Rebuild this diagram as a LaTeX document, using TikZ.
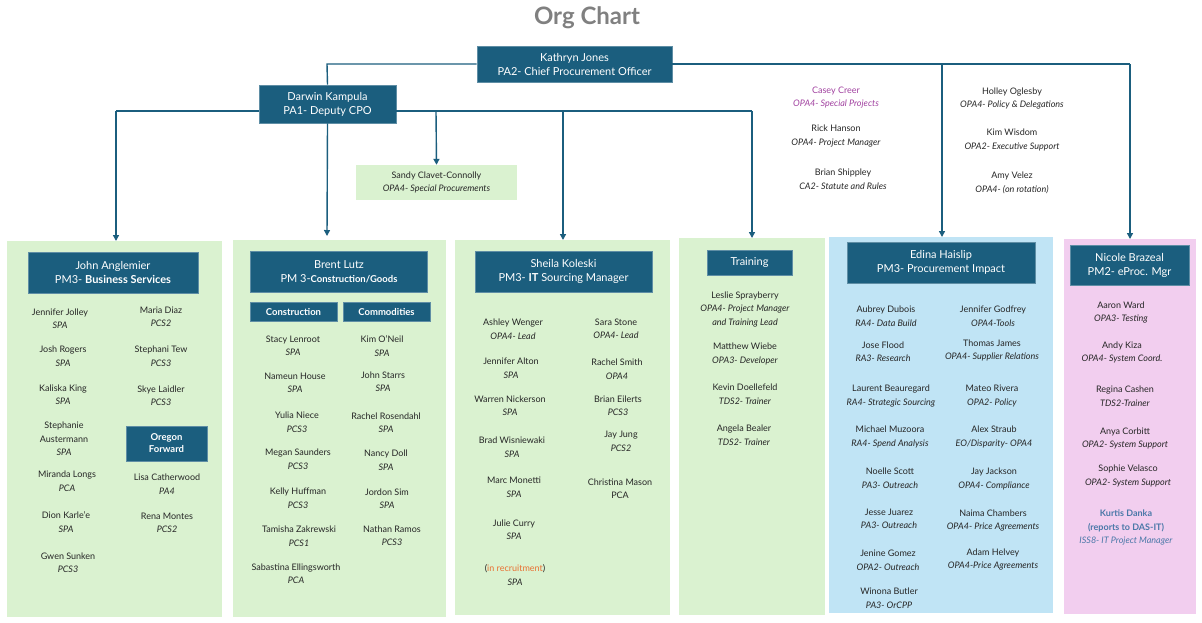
\documentclass[tikz,border=0pt]{standalone}
\usepackage{fontspec}
\setmainfont{Lato}
\usetikzlibrary{arrows.meta}
\definecolor{hdr}{HTML}{1B5E7E}
\definecolor{pg}{HTML}{DAF2D0}
\definecolor{pb}{HTML}{C0E4F5}
\definecolor{pp}{HTML}{F2CEEF}
\definecolor{txt}{HTML}{262626}
\definecolor{purp}{HTML}{A0409F}
\definecolor{orng}{HTML}{E97132}
\definecolor{kblue}{HTML}{4A78A8}
\begin{document}
\begin{tikzpicture}[x=1pt,y=-1pt,
  ent/.style={align=center,text=txt,font=\fontsize{9}{13.5}\selectfont,inner sep=0pt},
  hd/.style={fill=hdr,draw=hdr!70!white,line width=0.8pt,text=white,align=center,font=\fontsize{11}{14}\selectfont,inner sep=0pt},
  sub/.style={hd,font=\fontsize{9.5}{12}\selectfont\bfseries},
  panel/.style={inner sep=0pt},
  con/.style={draw=hdr,line width=1.4pt},
  arr/.style={con,-{Triangle[length=6pt,width=6pt]}}]
\useasboundingbox (0,0) rectangle (1202,622);
% title
\node[font=\fontsize{24}{28}\selectfont\bfseries,text=gray] (title) at (587,18) {Org Chart};
% panels
\fill[pg] (7,241) rectangle (222,617) coordinate (p1);
\fill[pg] (233,240) rectangle (446,617);
\fill[pg] (455,240) rectangle (670,615);
\fill[pg] (679,238) rectangle (825,615);
\fill[pb] (829,237) rectangle (1053,613);
\fill[pp] (1064,239) rectangle (1196,614);
% top boxes
\node[hd,minimum width=195,minimum height=36] (kj) at (574.5,64) {Kathryn Jones\\PA2- Chief Procurement Officer};
\node[hd,minimum width=137,minimum height=38] (dk) at (327.5,104) {Darwin Kampula\\PA1- Deputy CPO};
\node[fill=pg,minimum width=161,minimum height=35,ent] (sc) at (436.5,182.5) {Sandy Clavet-Connolly\\\textit{OPA4- Special Procurements}};
% headers
\node[hd,minimum width=170,minimum height=41] (h1) at (113,272.5) {John Anglemier\\PM3- \textbf{Business Services}};
\node[hd,minimum width=177,minimum height=41] (h2) at (339,272) {Brent Lutz\\PM 3-{\fontsize{9.5}{14}\selectfont\bfseries Construction/Goods}};
\node[sub,minimum width=87,minimum height=19] (hc) at (293.5,311.5) {Construction};
\node[sub,minimum width=87,minimum height=19] (hm) at (386.5,311.5) {Commodities};
\node[hd,minimum width=177,minimum height=41] (h3) at (563.5,271.5) {Sheila Koleski\\PM3- \textbf{IT} Sourcing Manager};
\node[hd,minimum width=85,minimum height=25] (h4) at (749.5,262.5) {Training};
\node[hd,minimum width=188,minimum height=41] (h5) at (941,262.5) {Edina Haislip\\PM3- Procurement Impact};
\node[hd,minimum width=119,minimum height=40] (h6) at (1129.5,265) {Nicole Brazeal\\PM2- eProc. Mgr};
\node[sub,minimum width=81,minimum height=35] (of) at (166.5,443.5) {Oregon\\Forward};
% connectors
\coordinate (c1) at (327,64);
\coordinate (c2) at (1130,64);
\coordinate (c3) at (942,64);
\coordinate (d1) at (116,111);
\coordinate (d2) at (752,111);
\coordinate (d3) at (436,111);
\coordinate (d4) at (563,111);
\draw[con] (kj.west) -- (c1) -- (dk.north);
\draw[con] (kj.east) -- (c2);
\draw[arr] (c2) -- (1130,239);
\draw[arr] (c3) -- (942,237);
\draw[con] (dk.west |- d1) -- (d1);
\draw[arr] (d1) -- (116,241);
\draw[con] (dk.east |- d2) -- (d2);
\draw[arr] (d2) -- (752,238);
\draw[arr] (d3) -- (sc.north);
\draw[arr] (d4) -- (563,240);
\draw[arr] (dk.south) -- (327,236);
% top free text
\node[ent,text=purp] (cc) at (836,97.5) {Casey Creer\\\textit{OPA4- Special Projects}};
\node[ent] (rh) at (836,136) {Rick Hanson\\\textit{OPA4- Project Manager}};
\node[ent] (bs) at (843,179) {Brian Shippley\\\textit{CA2- Statute and Rules}};
\node[ent] (ho) at (1012,98.5) {Holley Oglesby\\\textit{OPA4- Policy \& Delegations}};
\node[ent] (kw) at (1012,140) {Kim Wisdom\\\textit{OPA2- Executive Support}};
\node[ent] (av) at (1012,183) {Amy Velez\\\textit{OPA4- (on rotation)}};
% panel 1
\node[ent] (a1) at (60,318.5) {Jennifer Jolley\\\textit{SPA}};
\node[ent] (a2) at (63,356) {Josh Rogers\\\textit{SPA}};
\node[ent] (a3) at (63,394.5) {Kaliska King\\\textit{SPA}};
\node[ent] (a4) at (64,439) {Stephanie\\Austermann\\\textit{SPA}};
\node[ent] (a5) at (67,481) {Miranda Longs\\\textit{PCA}};
\node[ent] (a6) at (66,522) {Dion Karle'e\\\textit{SPA}};
\node[ent] (a7) at (68,562.5) {Gwen Sunken\\\textit{PCS3}};
\node[ent] (b1) at (161,316.5) {Maria Diaz\\\textit{PCS2}};
\node[ent] (b2) at (161,356) {Stephani Tew\\\textit{PCS3}};
\node[ent] (b3) at (161,395.5) {Skye Laidler\\\textit{PCS3}};
\node[ent] (b4) at (167,484) {Lisa Catherwood\\\textit{PA4}};
\node[ent] (b5) at (167,523) {Rena Montes\\\textit{PCS2}};
% panel 2
\node[ent] (e1) at (293,346) {Stacy Lenroot\\\textit{SPA}};
\node[ent] (e2) at (295,383) {Nameun House\\\textit{SPA}};
\node[ent] (e3) at (297,422) {Yulia Niece\\\textit{PCS3}};
\node[ent] (e4) at (298,459) {Megan Saunders\\\textit{PCS3}};
\node[ent] (e5) at (298,498) {Kelly Huffman\\\textit{PCS3}};
\node[ent] (e6) at (299,536) {Tamisha Zakrewski\\\textit{PCS1}};
\node[ent] (e7) at (296,573.5) {Sabastina Ellingsworth\\\textit{PCA}};
\node[ent] (f1) at (382,346) {Kim O'Neil\\\textit{SPA}};
\node[ent] (f2) at (383,381.5) {John Starrs\\\textit{SPA}};
\node[ent] (f3) at (386,422.5) {Rachel Rosendahl\\\textit{SPA}};
\node[ent] (f4) at (386,460) {Nancy Doll\\\textit{SPA}};
\node[ent] (f5) at (387,498.5) {Jordon Sim\\\textit{SPA}};
\node[ent] (f6) at (392,535.5) {Nathan Ramos\\\textit{PCS3}};
% panel 3
\node[ent] (g1) at (513,329) {Ashley Wenger\\\textit{OPA4- Lead}};
\node[ent] (g2) at (511,368) {Jennifer Alton\\\textit{SPA}};
\node[ent] (g3) at (510,405.5) {Warren Nickerson\\\textit{SPA}};
\node[ent] (g4) at (512,447) {Brad Wisniewaki\\\textit{SPA}};
\node[ent] (g5) at (514,487) {Marc Monetti\\\textit{SPA}};
\node[ent] (g6) at (514,529.5) {Julie Curry\\\textit{SPA}};
\node[ent] (g7) at (515,575) {(\textcolor{orng}{in recruitment})\\\textit{SPA}};
\node[ent] (k1) at (616,329) {Sara Stone\\\textit{OPA4- Lead}};
\node[ent] (k2) at (617,369) {Rachel Smith\\\textit{OPA4}};
\node[ent] (k3) at (618,405.5) {Brian Eilerts\\\textit{PCS3}};
\node[ent] (k4) at (621,441.5) {Jay Jung\\\textit{PCS2}};
\node[ent] (k5) at (620,488.5) {Christina Mason\\PCA};
% panel 4
\node[ent] (t1) at (745,309) {Leslie Sprayberry\\\textit{OPA4- Project Manager}\\\textit{and Training Lead}};
\node[ent] (t2) at (745,354) {Matthew Wiebe\\\textit{OPA3- Developer}};
\node[ent] (t3) at (745,394) {Kevin Doellefeld\\\textit{TDS2- Trainer}};
\node[ent] (t4) at (744,435) {Angela Bealer\\\textit{TDS2- Trainer}};
% panel 5
\node[ent] (m1) at (886,316) {Aubrey Dubois\\\textit{RA4- Data Build}};
\node[ent] (m2) at (883,351.5) {Jose Flood\\\textit{RA3- Research}};
\node[ent] (m3) at (891,396) {Laurent Beauregard\\\textit{RA4- Strategic Sourcing}};
\node[ent] (m4) at (890,437) {Michael Muzoora\\\textit{RA4- Spend Analysis}};
\node[ent] (m5) at (890,478) {Noelle Scott\\\textit{PA3- Outreach}};
\node[ent] (m6) at (889,519) {Jesse Juarez\\\textit{PA3- Outreach}};
\node[ent] (m7) at (888,560) {Jenine Gomez\\\textit{OPA2- Outreach}};
\node[ent] (m8) at (889,598) {Winona Butler\\\textit{PA3- OrCPP}};
\node[ent] (n1) at (993,316) {Jennifer Godfrey\\\textit{OPA4-Tools}};
\node[ent] (n2) at (992,350.5) {Thomas James\\\textit{OPA4- Supplier Relations}};
\node[ent] (n3) at (992,396) {Mateo Rivera\\\textit{OPA2- Policy}};
\node[ent] (n4) at (994,437) {Alex Straub\\\textit{EO/Disparity- OPA4}};
\node[ent] (n5) at (994,479) {Jay Jackson\\\textit{OPA4- Compliance}};
\node[ent] (n6) at (993,520.5) {Naima Chambers\\\textit{OPA4- Price Agreements}};
\node[ent] (n7) at (993,559.5) {Adam Helvey\\\textit{OPA4-Price Agreements}};
% panel 6
\node[ent] (q1) at (1121,312.5) {Aaron Ward\\\textit{OPA3- Testing}};
\node[ent] (q2) at (1122,352.5) {Andy Kiza\\\textit{OPA4- System Coord.}};
\node[ent] (q3) at (1125,396) {Regina Cashen\\\textit{TDS2-Trainer}};
\node[ent] (q4) at (1125,438.5) {Anya Corbitt\\\textit{OPA2- System Support}};
\node[ent] (q5) at (1128,476) {Sophie Velasco\\\textit{OPA2- System Support}};
\node[ent,text=kblue] (q6) at (1126,527.5) {\textbf{Kurtis Danka}\\\textbf{(reports to DAS-IT)}\\\textit{ISS8- IT Project Manager}};
\end{tikzpicture}
\end{document}
